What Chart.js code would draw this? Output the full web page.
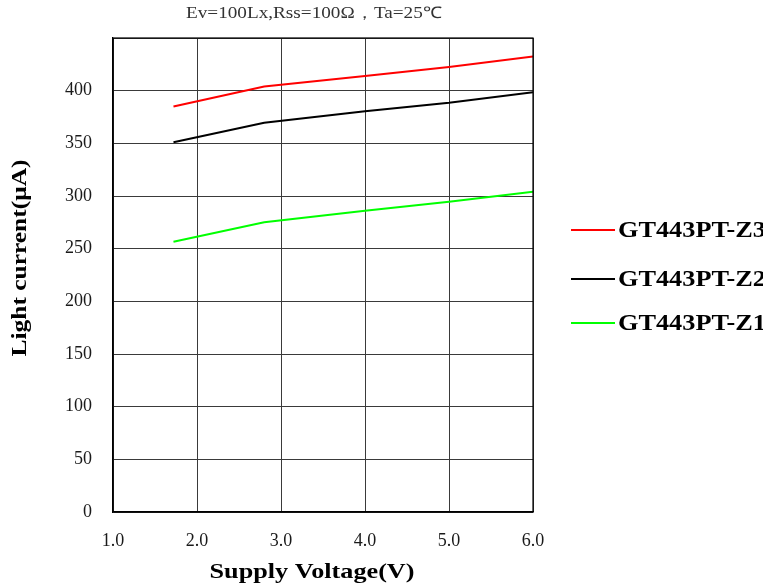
<!DOCTYPE html>
<html>
<head>
<meta charset="utf-8">
<script src="https://cdn.jsdelivr.net/npm/chart.js@4"></script>
<style>
html,body{margin:0;padding:0;background:#fff;}
#wrap{width:763px;height:588px;}
</style>
</head>
<body>
<div id="wrap"><canvas id="c" width="763" height="588"></canvas></div>
<script>
const voltages = [1.72, 2.8, 4.0, 5.0, 6.0];
const seriesZ3 = [385, 404, 414, 422.5, 432.5];
const seriesZ2 = [351, 369.5, 380.5, 388.5, 398.5];
const seriesZ1 = [256.5, 275, 286, 294.5, 304];
const seriesNames = ['GT443PT-Z3', 'GT443PT-Z2', 'GT443PT-Z1'];
const seriesColors = ['#ff0000', '#000000', '#00ff00'];
const xTicks = [1.0, 2.0, 3.0, 4.0, 5.0, 6.0];
const titleText = 'Ev=100Lx,Rss=100Ω，Ta=25℃';
const xTitle = 'Supply Voltage(V)';
const yTitle = 'Light current(μA)';

const toPts = (ys) => voltages.map((v, i) => ({x: v, y: ys[i]}));
const allSeries = [seriesZ3, seriesZ2, seriesZ1];

const SERIF = '"Liberation Serif", "Times New Roman", serif';

function drawStretched(ctx, text, x, y, font, targetW, align, color, rot) {
  ctx.save();
  ctx.font = font;
  ctx.fillStyle = color;
  ctx.textBaseline = 'middle';
  const w = ctx.measureText(text).width;
  const sx = targetW ? targetW / w : 1;
  ctx.translate(x, y);
  if (rot) ctx.rotate(rot);
  ctx.scale(sx, 1);
  let dx = 0;
  if (align === 'center') dx = -w / 2;
  else if (align === 'right') dx = -w;
  ctx.textAlign = 'left';
  ctx.fillText(text, dx, 0);
  ctx.restore();
}

const decor = {
  id: 'decor',
  afterDraw(chart) {
    const ctx = chart.ctx;
    drawStretched(ctx, titleText, 314, 14, '16px ' + SERIF, 256, 'center', '#333');
    drawStretched(ctx, xTitle, 312, 572, 'bold 22px ' + SERIF, 205, 'center', '#000');
    drawStretched(ctx, yTitle, 20, 258, 'bold 22px ' + SERIF, 197, 'center', '#000', -Math.PI / 2);
    const legY = [230, 279, 323];
    chart.data.datasets.forEach((ds, i) => {
      ctx.save();
      ctx.strokeStyle = ds.borderColor;
      ctx.lineWidth = 2;
      ctx.beginPath();
      ctx.moveTo(571, legY[i]);
      ctx.lineTo(615, legY[i]);
      ctx.stroke();
      ctx.restore();
      drawStretched(ctx, ds.label, 618, legY[i] + 1, 'bold 23px ' + SERIF, 148, 'left', '#000');
    });
  }
};

new Chart(document.getElementById('c'), {
  type: 'line',
  data: {
    datasets: seriesNames.map((n, i) => ({
      label: n,
      data: toPts(allSeries[i]),
      borderColor: seriesColors[i],
      backgroundColor: seriesColors[i],
      borderWidth: 2,
      pointRadius: 0,
      tension: 0,
      fill: false
    }))
  },
  options: {
    responsive: false,
    animation: false,
    devicePixelRatio: 1,
    layout: {padding: {left: 0, right: 230, top: 38, bottom: 0}},
    plugins: {legend: {display: false}, title: {display: false}, tooltip: {enabled: false}},
    scales: {
      x: {
        type: 'linear', min: 1, max: 6,
        afterBuildTicks: (s) => { s.ticks = xTicks.map(v => ({value: v})); },
        afterFit: (s) => { s.height = 76; },
        grid: {color: '#3a3a3a', lineWidth: 1, drawTicks: false},
        border: {color: '#000', width: 1.2},
        ticks: {
          padding: 18, color: '#1a1a1a', maxRotation: 0,
          font: {family: SERIF, size: 18},
          callback: (v) => Number(v).toFixed(1)
        }
      },
      y: {
        min: 0, max: 450,
        ticks: {
          stepSize: 50, padding: 21, color: '#1a1a1a',
          font: {family: SERIF, size: 18},
          callback: (v) => (v === 450 ? '' : String(v))
        },
        afterFit: (s) => { s.width = 113; },
        grid: {color: '#3a3a3a', lineWidth: 1, drawTicks: false},
        border: {color: '#000', width: 1.2}
      }
    }
  },
  plugins: [decor, {
    id: 'frame',
    afterDatasetsDraw(chart) {
      const {ctx, chartArea: a} = chart;
      ctx.save();
      ctx.strokeStyle = '#000';
      ctx.lineWidth = 1.2;
      ctx.strokeRect(a.left, a.top, a.right - a.left, a.bottom - a.top);
      ctx.restore();
    }
  }]
});
</script>
</body>
</html>
